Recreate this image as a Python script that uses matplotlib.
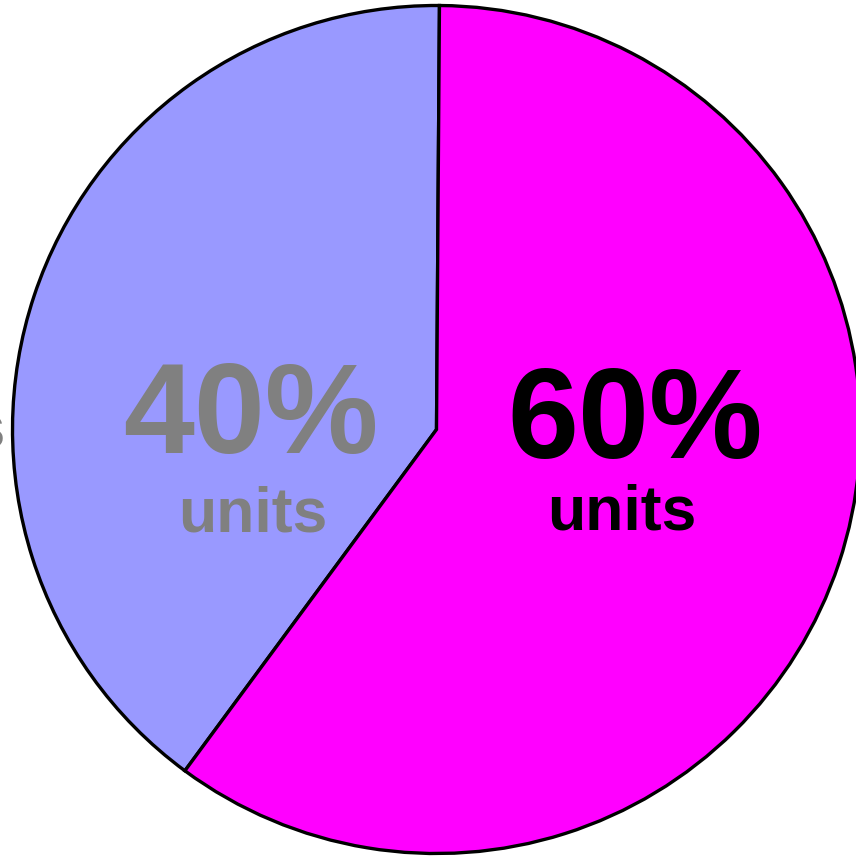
import matplotlib
matplotlib.use("Agg")
import matplotlib.pyplot as plt

# slice data
labels = ["60%", "40%"]
values = [60, 40]
colors = ["#ff00ff", "#9999ff"]
text_colors = ["#000000", "#808080"]
sub_label = "units"

W, H = 856, 858
fig = plt.figure(figsize=(W / 100, H / 100), dpi=100)
ax = fig.add_axes([0, 0, 1, 1])

center = (436.5, 428.5)
radius = 424

# the 40% slice runs counter-clockwise from just left of 12 o'clock
ax.pie(values[::-1], colors=colors[::-1], startangle=89.6,
       counterclock=True, center=center, radius=radius,
       wedgeprops=dict(edgecolor="black", linewidth=2.4),
       frame=True)
ax.set_xlim(0, W)
ax.set_ylim(0, H)
ax.set_aspect("equal")
ax.axis("off")

font = dict(family=["Liberation Sans", "DejaVu Sans"], weight="bold")

# big percent labels and "units" lines
pos_big = [(635.5, 400), (251, 405)]
pos_small = [(621.5, 328), (252.5, 326)]
for lab, col, pb, ps in zip(labels, text_colors, pos_big, pos_small):
    ax.text(pb[0], pb[1], lab, ha="center", va="baseline",
            fontsize=92, color=col, **font)
    ax.text(ps[0], ps[1], sub_label, ha="center", va="baseline",
            fontsize=45, color=col, **font)

# outer label that is clipped by the left edge of the picture
ax.text(6, 411, sub_label, ha="right", va="baseline",
        fontsize=45, color="#808080", **font)

fig.savefig("out.png", dpi=100)
